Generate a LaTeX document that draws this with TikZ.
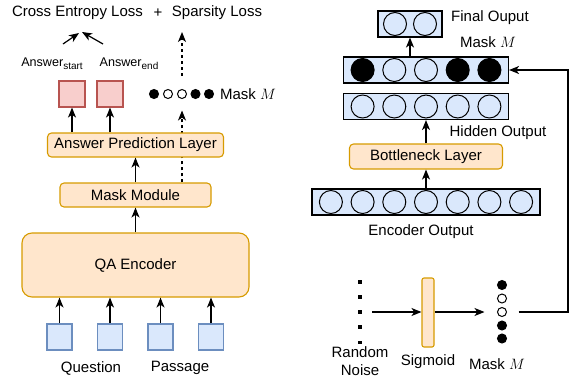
\RequirePackage{fix-cm}
\documentclass[tikz,border=0pt]{standalone}
\usepackage{fontspec}
\setmainfont{Liberation Sans}
\usepackage{tikz}
\usepackage{xcolor}
\usetikzlibrary{arrows.meta,positioning}

\definecolor{bluefill}{HTML}{DAE8FC}
\definecolor{blueline}{HTML}{6C8EBF}
\definecolor{orangefill}{HTML}{FFE6CC}
\definecolor{orangeline}{HTML}{D79B00}
\definecolor{redfill}{HTML}{F8CECC}
\definecolor{redline}{HTML}{B85450}

\newcommand{\ansub}[1]{\raisebox{-3pt}{\fontsize{10}{12}\selectfont #1}}

\tikzset{
  arr/.style={-{Stealth[length=10pt,width=8pt,inset=2.8pt]}, line width=1.2pt},
  dasharr/.style={arr, dash pattern=on 3pt off 3pt},
  orbox/.style={draw=orangeline, fill=orangefill, rounded corners=4pt, line width=1.1pt},
  inbox/.style={draw=blueline, fill=bluefill, line width=1.1pt, minimum width=25pt, minimum height=26pt, inner sep=0pt},
  ansbox/.style={draw=redline, fill=redfill, line width=1.1pt, minimum size=26pt, inner sep=0pt},
  layer/.style={draw=black, fill=bluefill, line width=1.1pt, minimum height=26pt, inner sep=0pt},
  neuron/.style={circle, draw=black, fill=bluefill, line width=1pt, minimum size=23pt, inner sep=0pt},
  mdot/.style={circle, draw=black, line width=1pt, minimum size=9pt, inner sep=0pt},
}

\begin{document}
\begin{tikzpicture}[x=1pt, y=-1pt, font=\fontsize{15}{18}\selectfont]
\useasboundingbox (0,0) rectangle (572,383);
% потери
\node (ce) at (77.5,13) {Cross Entropy Loss};
\node (plus) at (158,13) {+};
\node (sl) at (217,13) {Sparsity Loss};
\coordinate (cel) at (79,33);
\coordinate (cer) at (82,32);
\coordinate (spl) at (182,32);
% кодировщик
\node[orbox, minimum width=227pt, minimum height=64pt, rounded corners=10pt] (qa) at (135.5,265) {QA Encoder};
\node[orbox, minimum width=151pt, minimum height=24pt] (mm) at (135.5,195) {Mask Module};
\foreach \i/\x in {1/59.5, 2/110, 3/160.5, 4/211} {
  \node[inbox] (in\i) at (\x,337) {};
  \draw[arr] (in\i.north) -- (in\i.north |- qa.south);
}
\node (q) at (91,368) {Question};
\node (p) at (180,368) {Passage};
\draw[arr] (qa) -- (mm);
% маска слева
\foreach \i/\x/\c in {1/154/black, 2/168/white, 3/182/white, 4/195.5/black, 5/209/black}
  \node[mdot, fill=\c] (m\i) at (\x,94) {};
\node (ml) at (248,94) {Mask $M$};
\draw[dasharr, shorten >=11.5pt] (mm.north -| m3) -- (m3.south);
\draw[dasharr, shorten <=13.5pt] (m3.north) -- (spl);
\node[orbox, minimum width=176pt, minimum height=24pt] (apl) at (135.5,145) {Answer Prediction Layer};
\draw[arr] (mm) -- (apl);
% ответы
\node[ansbox] (as) at (72,94) {};
\node[ansbox] (ae) at (110,94) {};
\draw[arr] (apl.north -| as) -- (as.south);
\draw[arr] (apl.north -| ae) -- (ae.south);
\node[font=\fontsize{12.6}{15}\selectfont] (las) at (52,64) {Answer\ansub{start}};
\node[font=\fontsize{12.6}{15}\selectfont] (lae) at (129,64) {Answer\ansub{end}};
\draw[arr] (63,44) -- (cel);
\draw[arr] (103,44) -- (cer);
% сеть справа
\node[layer, minimum width=64pt] (fin) at (410,24) {};
\foreach \i/\x in {1/395, 2/425}
  \node[neuron] (f\i) at (\x,24) {};
\node[layer, minimum width=165pt] (mk) at (426,70) {};
\foreach \i/\c in {1/black, 2/bluefill, 3/bluefill, 4/black, 5/black}
  \node[neuron, fill=\c] (mk\i) at ({426+31.7*(\i-3)},70) {};
\node[layer, minimum width=165pt] (hid) at (426,106.5) {};
\foreach \i in {1,...,5}
  \node[neuron] (h\i) at ({426+31.7*(\i-3)},106.5) {};
\node[orbox, minimum width=153pt, minimum height=25pt] (bn) at (426,156.5) {Bottleneck Layer};
\node[layer, minimum width=228pt] (enc) at (426,202) {};
\foreach \i in {1,...,7}
  \node[neuron] (e\i) at ({426+31.7*(\i-4)},202) {};
\draw[arr] (enc) -- (bn);
\draw[arr] (bn) -- (hid);
\draw[arr] (mk.north -| fin) -- (fin.south);
% подписи справа
\node (lfin) at (490,18) {Final Ouput};
\node (lmk) at (488,42) {Mask $M$};
\node (lhid) at (498,133) {Hidden Output};
\node (lenc) at (421,232) {Encoder Output};
% шум и сигмоида
\foreach \i/\y in {1/282, 2/297, 3/312, 4/327, 5/342.5}
  \node[fill=black, minimum size=3.5pt, inner sep=0pt] (n\i) at (360,\y) {};
\coordinate (nz) at (372,312);
\node[orbox, minimum width=12pt, minimum height=69pt, rounded corners=2pt, inner sep=0pt] (sig) at (428,312.5) {};
\foreach \i/\y/\c in {1/285/black, 2/298.5/white, 3/312/white, 4/325.5/black, 5/338.5/black}
  \node[mdot, fill=\c] (c\i) at (502,\y) {};
\coordinate (fb) at (568,200);
\draw[arr] (nz) -- (nz -| sig.west);
\draw[arr, shorten >=12.5pt] (sig.east |- c3) -- (c3.west);
\draw[arr, shorten <=11.5pt] (c3.east) -- (c3 -| fb) -- (fb |- mk) -- (mk.east);
\node[align=center] (lnoise) at (360,361) {Random\\Noise};
\node (lsig) at (428,362) {Sigmoid};
\node (lmc) at (497,364) {Mask $M$};
\end{tikzpicture}
\end{document}
